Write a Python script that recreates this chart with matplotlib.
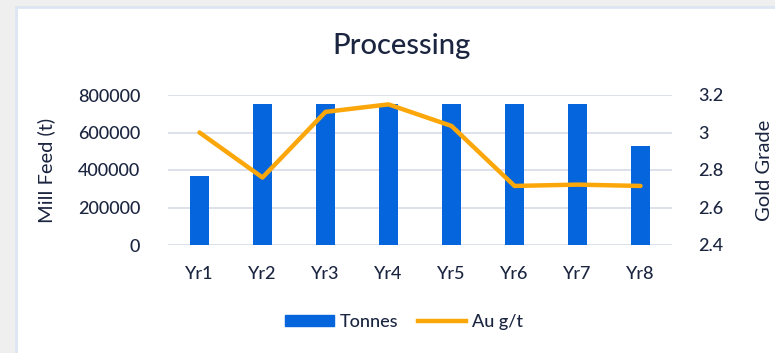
import matplotlib
matplotlib.use("Agg")
import matplotlib.pyplot as plt
from matplotlib.patches import Rectangle
from matplotlib.lines import Line2D
import matplotlib.font_manager as fm

years = ["Yr1", "Yr2", "Yr3", "Yr4", "Yr5", "Yr6", "Yr7", "Yr8"]
tonnes = [370000, 750000, 750000, 750000, 750000, 750000, 750000, 530000]
au_grade = [3.00, 2.76, 3.11, 3.15, 3.035, 2.715, 2.722, 2.715]

left_ticks = [0, 200000, 400000, 600000, 800000]
right_ticks = [2.4, 2.6, 2.8, 3.0, 3.2]
right_labels = ["2.4", "2.6", "2.8", "3", "3.2"]

BAR = "#0565DC"
LINE = "#FBA70A"
TEXT = "#1B2540"
GRID = "#D6DCE8"

names = {f.name for f in fm.fontManager.ttflist}
body_font = "Lato" if "Lato" in names else "DejaVu Sans"
plt.rcParams["font.family"] = [body_font, "DejaVu Sans"]
plt.rcParams["font.weight"] = "medium"

W, H = 775, 353
fig = plt.figure(figsize=(W / 100, H / 100), dpi=100)
fig.patch.set_facecolor("#EFEFEF")

# white card with a faint blue edge, kept behind the axes
card = Rectangle((16 / W, -0.02), 1, 1.02 - 7 / H, transform=fig.transFigure,
                 facecolor="white", edgecolor="#DCE6F2", linewidth=2.0,
                 zorder=-10)
fig.patches.append(card)

x0, x1 = 168, 672
y0, y1 = 245, 95
ax = fig.add_axes([x0 / W, 1 - y0 / H, (x1 - x0) / W, (y0 - y1) / H])
ax.set_facecolor("none")
xs = list(range(len(years)))
ax.bar(xs, tonnes, width=0.3, color=BAR, zorder=2)
ax.set_xlim(-0.5, len(years) - 0.5)
ax.set_ylim(0, 800000)
ax.set_yticks(left_ticks)
ax.set_yticklabels([str(v) for v in left_ticks])
ax.set_xticks(xs)
ax.set_xticklabels(years)
ax.grid(axis="y", color=GRID, linewidth=1.2, zorder=0)
ax.set_axisbelow(True)
for s in ax.spines.values():
    s.set_visible(False)
ax.tick_params(axis="both", length=0, labelsize=13, labelcolor=TEXT)
ax.tick_params(axis="y", pad=20)
ax.tick_params(axis="x", pad=15)
ax.set_ylabel("Mill Feed (t)", fontsize=14.5, color=TEXT, labelpad=16)

ax2 = ax.twinx()
ax2.plot(xs, au_grade, color=LINE, linewidth=3.2, solid_joinstyle="round",
         solid_capstyle="round", zorder=3)
ax2.set_ylim(2.4, 3.2)
ax2.set_yticks(right_ticks)
ax2.set_yticklabels(right_labels)
for s in ax2.spines.values():
    s.set_visible(False)
ax2.tick_params(axis="y", length=0, labelsize=13, labelcolor=TEXT, pad=19)
ax2.set_ylabel("Gold Grade", fontsize=14.5, color=TEXT, labelpad=23)

fig.text(402 / W, 1 - 46 / H, "Processing", ha="center", va="center",
         fontsize=21, color=TEXT)

handles = [Rectangle((0, 0), 1, 1, color=BAR),
           Line2D([0], [0], color=LINE, linewidth=3.2)]
fig.legend(handles, ["Tonnes", "Au g/t"], loc="center", ncol=2,
           bbox_to_anchor=(404 / W, 1 - 322 / H), frameon=False,
           fontsize=13, labelcolor=TEXT, handlelength=2.7,
           handletextpad=0.3, columnspacing=1.1, handleheight=0.6)

fig.savefig("out.png", dpi=100, facecolor=fig.get_facecolor())
